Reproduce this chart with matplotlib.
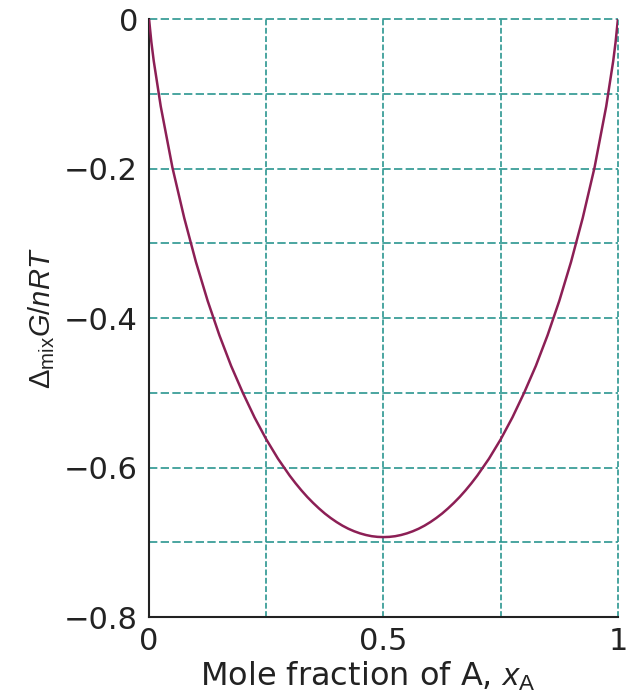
import matplotlib.pyplot as plt

plt.rcParams['font.family'] = ['DejaVu Sans']
plt.rcParams['mathtext.fontset'] = 'custom'
plt.rcParams['mathtext.rm'] = 'Liberation Sans'
plt.rcParams['mathtext.it'] = 'Liberation Sans:italic'

# values
x_a = [0, 0.005, 0.01, 0.025, 0.05, 0.075, 0.1, 0.125, 0.15, 0.175, 0.2,
       0.225, 0.25, 0.275, 0.3, 0.3125, 0.325, 0.3375, 0.35, 0.3625, 0.375,
       0.3875, 0.4, 0.4125, 0.425, 0.4375, 0.45, 0.4625, 0.475, 0.4875,
       0.5, 0.5125, 0.525, 0.5375, 0.55, 0.5625, 0.575, 0.5875, 0.6,
       0.6125, 0.625, 0.6375, 0.65, 0.6625, 0.675, 0.6875, 0.7, 0.725,
       0.75, 0.775, 0.8, 0.825, 0.85, 0.875, 0.9, 0.925, 0.95, 0.975,
       0.99, 0.995, 1]
g_mix = [0, -0.031, -0.056, -0.117, -0.199, -0.266, -0.325, -0.377, -0.423,
         -0.464, -0.500, -0.533, -0.5623, -0.5882, -0.6109, -0.6211,
         -0.6306, -0.6394, -0.6474, -0.6548, -0.6616, -0.6676, -0.6730,
         -0.6778, -0.6819, -0.6853, -0.6881, -0.6903, -0.6919, -0.6928,
         -0.6931, -0.6928, -0.6919, -0.6903, -0.6881, -0.6853, -0.6819,
         -0.6778, -0.6730, -0.6676, -0.6616, -0.6548, -0.6474, -0.6394,
         -0.6306, -0.6211, -0.6109, -0.5882, -0.5623, -0.533, -0.500,
         -0.464, -0.423, -0.377, -0.325, -0.266, -0.199, -0.117, -0.056,
         -0.031, 0]

x_ticks = [0, 0.5, 1]
x_labels = ['0', '0.5', '1']
y_ticks = [0, -0.2, -0.4, -0.6, -0.8]
y_labels = ['0', '\u22120.2', '\u22120.4', '\u22120.6', '\u22120.8']
x_grid = [0.25, 0.5, 0.75, 1]
y_grid = [0, -0.1, -0.2, -0.3, -0.4, -0.5, -0.6, -0.7]

fig = plt.figure(figsize=(6.41, 6.96), dpi=100)
ax = fig.add_axes([0.2325, 0.1135, 0.7315, 0.8592])

grid_col = '#2b9690'
for gx in x_grid:
    ax.axvline(gx, color=grid_col, lw=1.2, ls=(0, (3.5, 1.5)), zorder=1,
               clip_on=False)
for gy in y_grid:
    ax.axhline(gy, color=grid_col, lw=1.2, ls=(0, (5, 2)), zorder=1,
               clip_on=False)

ax.plot(x_a, g_mix, color='#8c1f55', lw=1.8, zorder=3)

ax.set_xlim(0, 1)
ax.set_ylim(-0.8, 0)
ax.set_xticks(x_ticks)
ax.set_xticklabels(x_labels)
ax.set_yticks(y_ticks)
ax.set_yticklabels(y_labels)
ax.tick_params(length=0, labelsize=22, colors='#222222')
ax.tick_params(axis='x', pad=7)
ax.tick_params(axis='y', pad=8)

for s in ['top', 'right']:
    ax.spines[s].set_visible(False)
for s in ['left', 'bottom']:
    ax.spines[s].set_linewidth(1.5)
    ax.spines[s].set_color('#222222')

ax.set_xlabel('Mole fraction of A, $x_{\\mathrm{A}}$', fontsize=23,
              color='#222222')
ax.xaxis.set_label_coords(0.467, -0.071)
ax.set_ylabel('$\\mathrm{\\Delta}_{\\mathrm{mix}}G/nRT$', fontsize=21,
              color='#222222', family='Liberation Sans')
ax.yaxis.set_label_coords(-0.196, 0.5)

fig.savefig('out.png', dpi=100)
